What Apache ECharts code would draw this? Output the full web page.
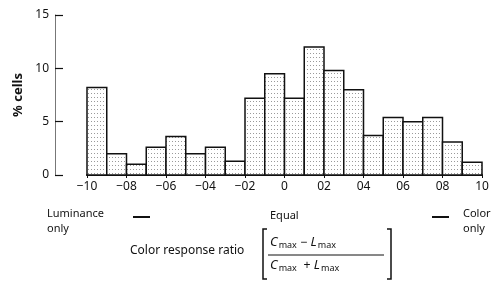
<!DOCTYPE html>
<html>
<head>
    <meta charset="utf-8">
    <title>Color response ratio</title>
    <script src="https://cdn.jsdelivr.net/npm/echarts@6/dist/echarts.min.js"></script>
    <style>
        html, body { margin: 0; padding: 0; background: #fff; }
    </style>
</head>
<body>
<div id="main" style="width: 497px;height:282px;"></div>

<script type="text/javascript">
    // bins of the ratio (lower and upper edge) and % of cells in each
    var binLow  = [-1.0, -0.9, -0.8, -0.7, -0.6, -0.5, -0.4, -0.3, -0.2, -0.1, 0.0, 0.1, 0.2, 0.3, 0.4, 0.5, 0.6, 0.7, 0.8, 0.9];
    var binHigh = [-0.9, -0.8, -0.7, -0.6, -0.5, -0.4, -0.3, -0.2, -0.1, 0.0, 0.1, 0.2, 0.3, 0.4, 0.5, 0.6, 0.7, 0.8, 0.9, 1.0];
    var pctCells = [8.2, 2.0, 1.0, 2.6, 3.6, 2.0, 2.6, 1.3, 7.2, 9.5, 7.2, 12.0, 9.8, 8.0, 3.7, 5.4, 5.0, 5.4, 3.1, 1.2];
    // tick labels as printed (decimal points lost in the print)
    var xTickLabels = ['\u221210', '\u221208', '\u221206', '\u221204', '\u221202', '0', '02', '04', '06', '08', '10'];
    var yTickLabels = ['0', '5', '10', '15'];

    var font = '"Noto Sans", sans-serif';

    // stipple fill like the printed bars
    var dots = document.createElement('canvas');
    dots.width = 3;
    dots.height = 4;
    var dctx = dots.getContext('2d');
    dctx.fillStyle = '#fff';
    dctx.fillRect(0, 0, 3, 4);
    dctx.fillStyle = '#9a9a9a';
    dctx.fillRect(1, 1, 1, 1);

    var rows = [];
    for (var i = 0; i < pctCells.length; i++) {
        rows.push([binLow[i], binHigh[i], pctCells[i]]);
    }

    var myChart = echarts.init(document.getElementById('main'));
    myChart.setOption({
        animation: false,
        backgroundColor: '#fff',
        grid: { left: 87, right: 15, top: 15, bottom: 107 },
        xAxis: {
            type: 'value',
            min: -1,
            max: 1,
            interval: 0.2,
            splitLine: { show: false },
            axisLine: { onZero: false, lineStyle: { color: '#111', width: 2 } },
            axisTick: { length: 3, lineStyle: { color: '#111' } },
            axisLabel: {
                color: '#111', fontSize: 12, fontFamily: font, margin: 6,
                formatter: function (v, idx) { return xTickLabels[idx]; }
            }
        },
        yAxis: {
            type: 'value',
            min: 0,
            max: 15,
            interval: 5,
            offset: 32,
            name: '% cells',
            nameLocation: 'middle',
            nameRotate: 90,
            nameGap: 24,
            nameTextStyle: { color: '#111', fontSize: 13, fontFamily: font, fontWeight: 'bold' },
            splitLine: { show: false },
            axisLine: { show: true, onZero: false, lineStyle: { color: '#777', width: 1 } },
            axisTick: { inside: false, length: -8, lineStyle: { color: '#111', width: 1.2 } },
            axisLabel: {
                color: '#111', fontSize: 12, fontFamily: font, margin: 6,
                formatter: function (v, idx) { return yTickLabels[idx]; }
            }
        },
        series: [{
            type: 'custom',
            data: rows,
            renderItem: function (params, api) {
                var p0 = api.coord([api.value(0), 0]);
                var p1 = api.coord([api.value(1), api.value(2)]);
                return {
                    type: 'rect',
                    shape: { x: p0[0], y: p1[1], width: p1[0] - p0[0], height: p0[1] - p1[1] },
                    style: { fill: { image: dots, repeat: 'repeat' }, stroke: '#111', lineWidth: 1.5 }
                };
            }
        }],
        graphic: [
            { type: 'text', left: 47, top: 206, style: { text: 'Luminance\nonly', font: '11px ' + font, fill: '#111', lineHeight: 15 } },
            { type: 'line', shape: { x1: 133, y1: 217, x2: 150, y2: 217 }, style: { stroke: '#111', lineWidth: 2 } },
            { type: 'text', left: 270, top: 210, style: { text: 'Equal', font: '11px ' + font, fill: '#111' } },
            { type: 'line', shape: { x1: 432, y1: 217, x2: 449, y2: 217 }, style: { stroke: '#111', lineWidth: 2 } },
            { type: 'text', left: 463, top: 206, style: { text: 'Color\nonly', font: '11px ' + font, fill: '#111', lineHeight: 15 } },

            { type: 'text', left: 130, top: 245, style: { text: 'Color response ratio', font: '12px ' + font, fill: '#111' } },
            { type: 'polyline', shape: { points: [[267, 229], [263, 229], [263, 279], [267, 279]] }, style: { stroke: '#111', lineWidth: 1.5, fill: null } },
            { type: 'polyline', shape: { points: [[387, 229], [391, 229], [391, 279], [387, 279]] }, style: { stroke: '#111', lineWidth: 1.5, fill: null } },
            { type: 'line', shape: { x1: 268, y1: 255, x2: 384, y2: 255 }, style: { stroke: '#111', lineWidth: 1 } },
            {
                type: 'text', left: 270, top: 236,
                style: {
                    text: '{i|C}{s|max} \u2212 {i|L}{s|max}',
                    fill: '#111',
                    rich: {
                        i: { font: 'italic 13px ' + font, fill: '#111' },
                        s: { font: '9px ' + font, fill: '#111', verticalAlign: 'bottom', padding: [6, 0, 0, 1] }
                    }
                }
            },
            {
                type: 'text', left: 270, top: 259,
                style: {
                    text: '{i|C}{s|max}  + {i|L}{s|max}',
                    fill: '#111',
                    rich: {
                        i: { font: 'italic 13px ' + font, fill: '#111' },
                        s: { font: '9px ' + font, fill: '#111', verticalAlign: 'bottom', padding: [6, 0, 0, 1] }
                    }
                }
            }
        ]
    });
</script>
</body>
</html>
